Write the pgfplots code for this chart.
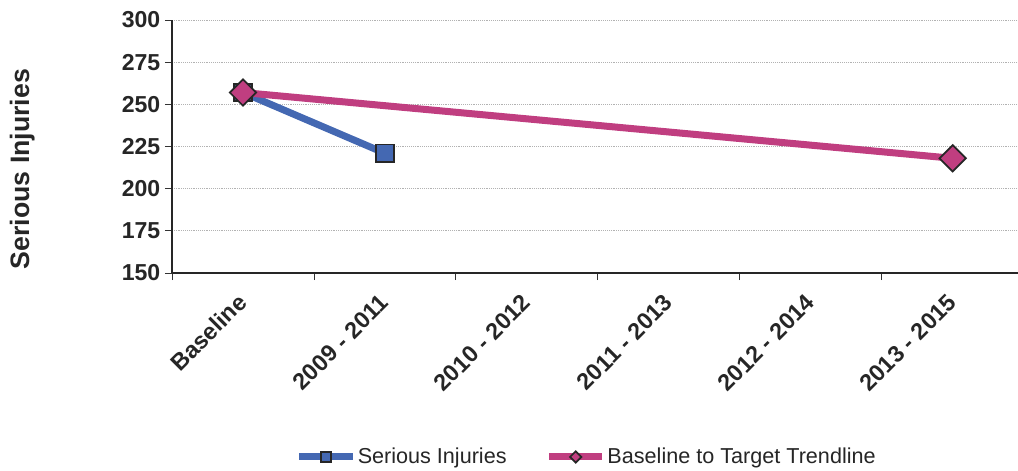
\documentclass[border=0pt]{standalone}
\usepackage{fontspec}
\setmainfont{Liberation Sans}
\usepackage{pgfplots}
\pgfplotsset{compat=1.18}
\definecolor{siblue}{RGB}{68,104,178}
\definecolor{trend}{RGB}{192,62,128}
\begin{document}
\begin{tikzpicture}
\begin{axis}[
  at={(129pt,0pt)}, anchor=south west,
  width=634.5pt, height=189.75pt, scale only axis,
  xmin=-0.5, xmax=5.46,
  ymin=150, ymax=300,
  ytick={150,175,...,300},
  xtick={0,...,5},
  xticklabels={Baseline,2009 - 2011,2010 - 2012,2011 - 2013,2012 - 2014,2013 - 2015},
  minor xtick={-0.5,0.5,...,5.5},
  major x tick style={draw=none},
  tick align=outside,
  major tick length=5.25pt, minor tick length=5.25pt,
  tick style={black!80, line width=0.6pt},
  axis x line*=bottom, axis y line*=left,
  axis line style={-, draw=black!85, line width=0.9pt},
  ymajorgrids,
  grid style={densely dotted, black!30, line width=0.6pt},
  /pgf/number format/assume math mode=true,
  y tick label style={font=\fontsize{17.3}{20}\selectfont\bfseries, text=black!85},
  x tick label style={font=\fontsize{17.5}{20}\selectfont\bfseries, text=black!85,
    xshift=2pt, yshift=-11.5pt, rotate=45, anchor=east},
  ylabel={Serious Injuries},
  ylabel style={at={(axis description cs:-0.177,0.411)}, anchor=center,
    font=\fontsize{20}{24}\selectfont\bfseries, text=black!85},
  legend style={at={(axis description cs:0.49,-0.727)}, anchor=center, draw=none,
    font=\fontsize{16.2}{19}\selectfont, text=black!85, inner sep=0pt,
    nodes={inner xsep=1.2pt},
    /tikz/every even column/.append style={column sep=28pt}},
  legend columns=2,
  legend cell align=left,
  legend image code/.code={\draw[#1, line width=5.25pt, mark repeat=2, mark phase=2]
    plot coordinates {(0pt,0pt) (20pt,0pt) (40pt,0pt)};},
  clip=false,
]
\addplot[siblue, line width=5.25pt, mark=square*, mark size=6.6pt,
  mark options={fill=siblue, draw=black!85, line width=1.3pt},
  legend image post style={mark size=3.6pt}]
  coordinates {(0,257) (1,221)};
\addlegendentry{Serious Injuries}
\addplot[trend, line width=5.25pt, mark=square*, mark size=7pt,
  mark options={fill=trend, draw=black!85, line width=1.3pt, rotate=45},
  legend image post style={mark size=3pt}]
  coordinates {(0,257) (5,218)};
\addlegendentry{Baseline to Target Trendline}
\end{axis}
\pgfresetboundingbox
\path (0pt,-148.5pt) rectangle (763.5pt,204.75pt);
\end{tikzpicture}
\end{document}
